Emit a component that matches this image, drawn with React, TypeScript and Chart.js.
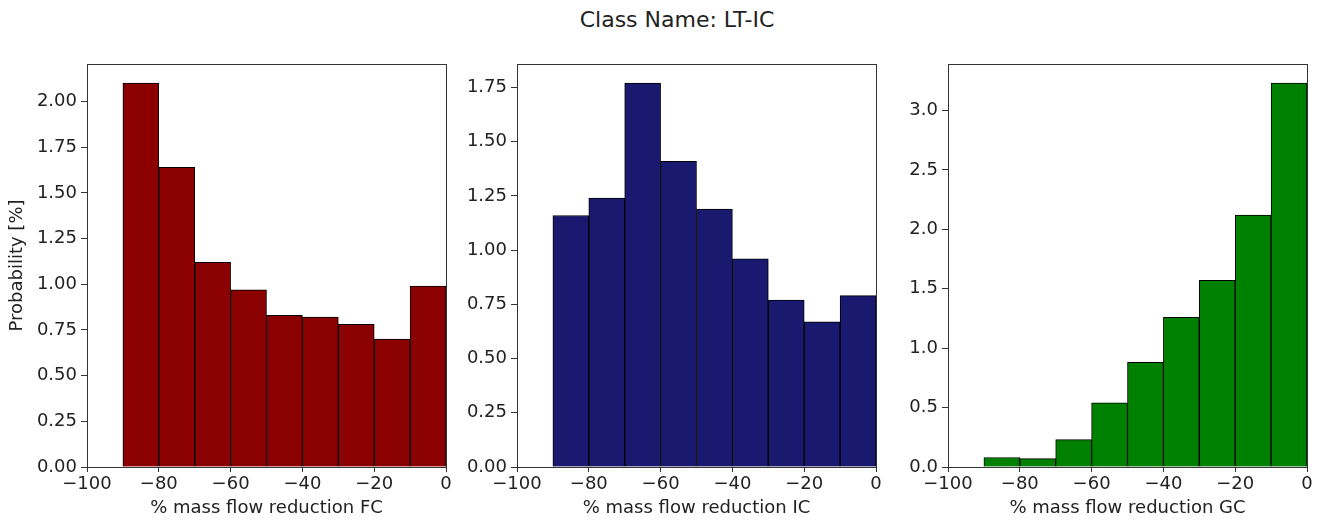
import React, { useEffect, useRef } from "react";
import { Chart, registerables } from "chart.js";

Chart.register(...registerables);

// ---- data ----
const binCenters = [-85, -75, -65, -55, -45, -35, -25, -15, -5];
const fcValues = [2.10, 1.64, 1.12, 0.97, 0.83, 0.82, 0.78, 0.70, 0.99];
const icValues = [1.16, 1.24, 1.77, 1.41, 1.19, 0.96, 0.77, 0.67, 0.79];
const gcValues = [0.08, 0.07, 0.23, 0.54, 0.88, 1.26, 1.57, 2.12, 3.23];
const titleText = "Class Name: LT-IC";
const yAxisLabel = "Probability [%]";
const xLabels = ["% mass flow reduction FC", "% mass flow reduction IC", "% mass flow reduction GC"];

const FONT = "'DejaVu Sans', 'Liberation Sans', sans-serif";
const TEXT = "#222";
const AXIS = "#333";

const framePlugin = {
  id: "frame",
  afterDraw(chart: any) {
    const { ctx, chartArea } = chart;
    ctx.save();
    ctx.strokeStyle = AXIS;
    ctx.lineWidth = 1;
    ctx.strokeRect(
      Math.round(chartArea.left) + 0.5,
      Math.round(chartArea.top) + 0.5,
      Math.round(chartArea.right - chartArea.left),
      Math.round(chartArea.bottom - chartArea.top)
    );
    ctx.restore();
  },
};

type PanelProps = {
  values: number[];
  color: string;
  xLabel: string;
  yLabel?: string;
  yStep: number;
  decimals: number;
  left: number;
};

const CW = 449;
const CH = 521;

function Panel({ values, color, xLabel, yLabel, yStep, decimals, left }: PanelProps) {
  const ref = useRef<HTMLCanvasElement | null>(null);
  useEffect(() => {
    if (!ref.current) return;
    const yMax = Math.max(...values) * 1.05;
    const chart = new Chart(ref.current, {
      type: "bar",
      data: {
        datasets: [
          {
            data: binCenters.map((x, i) => ({ x, y: values[i] })),
            backgroundColor: color,
            borderColor: "#000",
            borderWidth: 1,
            barPercentage: 1,
            categoryPercentage: 1,
          },
        ],
      },
      options: {
        animation: false,
        responsive: false,
        devicePixelRatio: 1,
        layout: { padding: { top: 64, right: 10, left: 0, bottom: 0 } },
        plugins: { legend: { display: false }, tooltip: { enabled: false }, title: { display: false } },
        scales: {
          x: {
            type: "linear",
            min: -100,
            max: 0,
            offset: false,
            afterFit: (s: any) => {
              s.height = 54;
            },
            grid: { offset: false, drawOnChartArea: false, drawTicks: true, tickLength: 5, color: AXIS },
            border: { display: true, color: AXIS },
            ticks: {
              stepSize: 20,
              padding: 2,
              color: TEXT,
              font: { family: FONT, size: 18 },
              maxRotation: 0,
              callback: (v: any) => String(v).replace("-", "\u2212"),
            },
            title: {
              display: true,
              text: xLabel,
              color: TEXT,
              font: { family: FONT, size: 18 },
              padding: { top: 0, bottom: 2 },
            },
          },
          y: {
            type: "linear",
            min: 0,
            max: yMax,
            afterFit: (s: any) => {
              s.width = 80;
            },
            grid: { drawOnChartArea: false, drawTicks: true, tickLength: 6, color: AXIS },
            border: { display: true, color: AXIS },
            ticks: {
              stepSize: yStep,
              includeBounds: false,
              padding: 4,
              color: TEXT,
              font: { family: FONT, size: 18 },
              callback: (v: any) => Number(v).toFixed(decimals),
            },
            title: {
              display: !!yLabel,
              text: yLabel || "",
              color: TEXT,
              font: { family: FONT, size: 18 },
              padding: { top: 0, bottom: 0 },
            },
          },
        },
      },
      plugins: [framePlugin],
    } as any);
    return () => chart.destroy();
  }, [values, color, xLabel, yLabel, yStep, decimals]);
  return (
    <canvas
      ref={ref}
      width={CW}
      height={CH}
      style={{ position: "absolute", left, top: 0, width: CW, height: CH }}
    />
  );
}

export default function App() {
  return (
    <div
      style={{
        position: "fixed",
        left: 0,
        top: 0,
        width: 1321,
        height: 521,
        background: "#fff",
        overflow: "hidden",
      }}
    >
      <div
        style={{
          position: "absolute",
          left: 0,
          width: 1354,
          top: 9,
          textAlign: "center",
          fontFamily: FONT,
          fontSize: 22,
          lineHeight: "22px",
          color: TEXT,
        }}
      >
        {titleText}
      </div>
      <Panel values={fcValues} color="#8B0000" xLabel={xLabels[0]} yLabel={yAxisLabel} yStep={0.25} decimals={2} left={7} />
      <Panel values={icValues} color="#191970" xLabel={xLabels[1]} yStep={0.25} decimals={2} left={437} />
      <Panel values={gcValues} color="#008000" xLabel={xLabels[2]} yStep={0.5} decimals={1} left={868} />
    </div>
  );
}
